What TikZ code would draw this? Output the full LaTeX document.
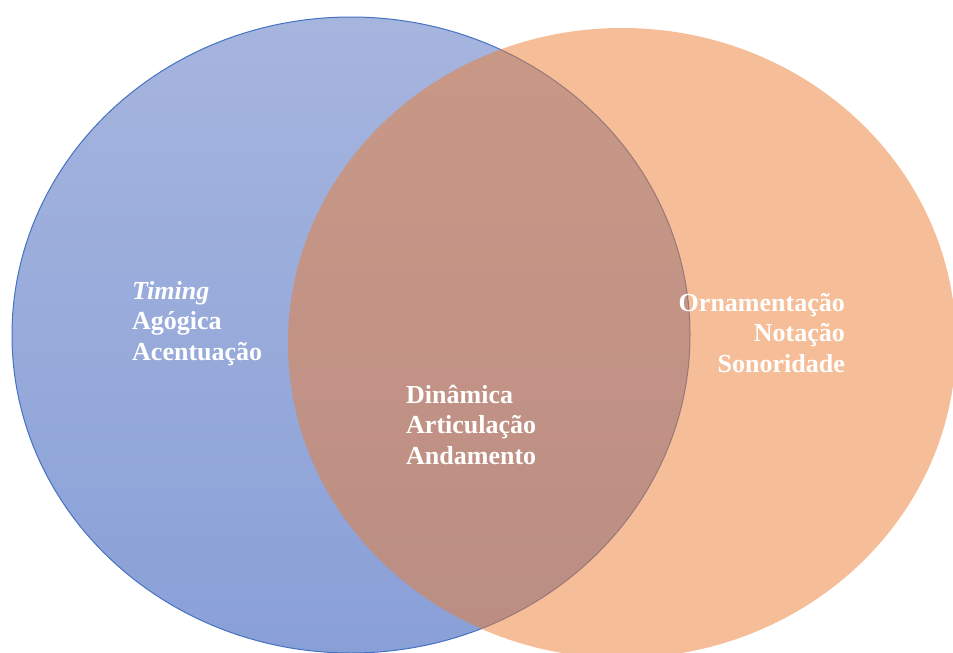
\documentclass[tikz,border=0pt]{standalone}
\usepackage{fontspec}
\setmainfont{Liberation Serif}
\definecolor{bluetop}{RGB}{166,181,222}
\definecolor{bluebot}{RGB}{137,160,215}
\definecolor{blueline}{RGB}{68,114,196}
\definecolor{orangefill}{RGB}{237,125,49}
\tikzset{
  lbl/.style={text=white, font=\bfseries\fontsize{26}{30.5}\selectfont, inner sep=0pt},
}
\begin{document}
\begin{tikzpicture}[x=1pt,y=-1pt]
\useasboundingbox (0,0) rectangle (953,653);
\path[clip] (0,0) rectangle (953,653);
% blue set
\path[top color=bluetop, bottom color=bluebot, draw=blueline, line width=1pt]
  (351,335) ellipse [x radius=339, y radius=318];
% orange set
\path[fill=orangefill, fill opacity=0.5]
  (622,343) ellipse [x radius=334, y radius=315];
% labels (base anchor = baseline of last line)
\node[lbl, anchor=base west, align=left] (left) at (132,360)
  {\textit{Timing}\\Agógica\\Acentuação};
\node[lbl, anchor=base east, align=right] (right) at (845,372)
  {Ornamentação\\Notação\\Sonoridade};
\node[lbl, anchor=base west, align=left] (mid) at (406,464)
  {Dinâmica\\Articulação\\Andamento};
\end{tikzpicture}
\end{document}
